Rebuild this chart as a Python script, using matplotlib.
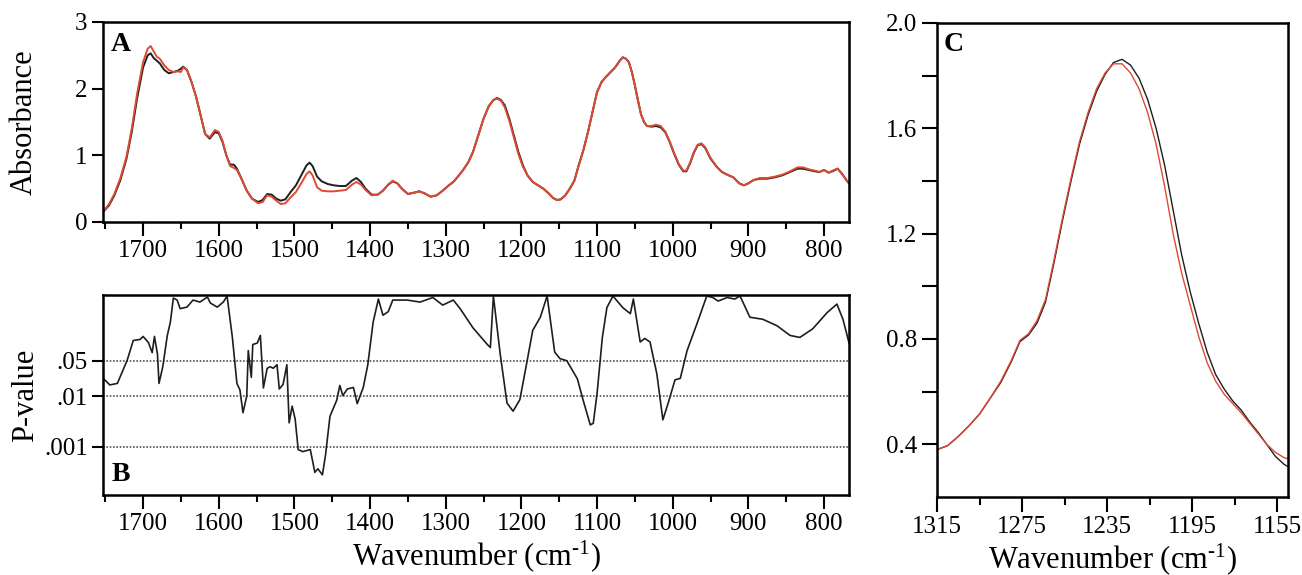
import numpy as np
import matplotlib
matplotlib.use("Agg")
import matplotlib.pyplot as plt
from matplotlib.ticker import MultipleLocator, FixedLocator, NullLocator

plt.rcParams['font.family'] = ['Liberation Serif', 'DejaVu Serif']
plt.rcParams['mathtext.fontset'] = 'custom'
plt.rcParams['mathtext.rm'] = 'Liberation Serif'
plt.rcParams['mathtext.it'] = 'Liberation Serif:italic'

# ---------------- Panel A data (absorbance spectra) ----------------
wn_A = [1753, 1745, 1738, 1730, 1722, 1715, 1708, 1700, 1694, 1690, 1686, 1682, 1678, 1672,
        1666, 1660, 1654, 1650, 1647, 1642, 1636, 1630, 1624, 1618, 1612, 1605, 1600, 1595,
        1590, 1585, 1580, 1576, 1570, 1563, 1556, 1548, 1542, 1536, 1530, 1524, 1518, 1512,
        1505, 1498, 1490, 1484, 1480, 1476, 1470, 1464, 1456, 1448, 1440, 1432, 1424, 1418,
        1412, 1406, 1398, 1390, 1383, 1376, 1370, 1364, 1358, 1350, 1342, 1335, 1328, 1320,
        1312, 1304, 1296, 1290, 1284, 1277, 1270, 1264, 1257, 1250, 1243, 1237, 1232, 1227,
        1222, 1216, 1210, 1204, 1198, 1192, 1185, 1178, 1171, 1164, 1158, 1153, 1148, 1142,
        1136, 1130, 1124, 1118, 1112, 1106, 1100, 1094, 1088, 1082, 1076, 1070, 1066, 1062,
        1058, 1054, 1050, 1047, 1042, 1038, 1034, 1028, 1022, 1016, 1010, 1004, 998, 992,
        986, 982, 977, 972, 967, 962, 957, 950, 942, 935, 928, 920, 912, 906, 900, 893, 885,
        875, 865, 855, 845, 835, 828, 820, 812, 806, 800, 794, 787, 782, 776, 770, 767]
abs_black = [0.15, 0.25, 0.40, 0.63, 0.95, 1.35, 1.85, 2.32, 2.50, 2.53, 2.46, 2.42, 2.38, 2.28,
             2.23, 2.25, 2.27, 2.30, 2.33, 2.28, 2.10, 1.88, 1.60, 1.32, 1.25, 1.35, 1.33, 1.20,
             1.00, 0.86, 0.86, 0.80, 0.65, 0.47, 0.35, 0.30, 0.33, 0.42, 0.41, 0.35, 0.32, 0.34,
             0.45, 0.55, 0.72, 0.85, 0.89, 0.84, 0.68, 0.61, 0.57, 0.55, 0.54, 0.54, 0.62, 0.66,
             0.60, 0.50, 0.41, 0.41, 0.47, 0.56, 0.61, 0.58, 0.50, 0.42, 0.44, 0.46, 0.43, 0.38,
             0.40, 0.47, 0.55, 0.60, 0.68, 0.78, 0.90, 1.05, 1.30, 1.55, 1.74, 1.83, 1.86, 1.83,
             1.75, 1.55, 1.30, 1.05, 0.85, 0.70, 0.60, 0.55, 0.50, 0.43, 0.36, 0.33, 0.34, 0.40,
             0.50, 0.62, 0.86, 1.08, 1.35, 1.65, 1.95, 2.10, 2.18, 2.25, 2.32, 2.42, 2.47, 2.45,
             2.40, 2.25, 2.05, 1.88, 1.62, 1.50, 1.44, 1.43, 1.44, 1.42, 1.35, 1.20, 1.02, 0.86,
             0.76, 0.76, 0.88, 1.04, 1.15, 1.17, 1.11, 0.95, 0.83, 0.75, 0.71, 0.67, 0.58, 0.55,
             0.58, 0.63, 0.65, 0.65, 0.67, 0.70, 0.75, 0.80, 0.80, 0.78, 0.76, 0.75, 0.78, 0.74,
             0.77, 0.80, 0.72, 0.62, 0.58]
abs_red = [0.15, 0.27, 0.42, 0.66, 0.98, 1.40, 1.92, 2.40, 2.60, 2.64, 2.56, 2.48, 2.45, 2.35,
           2.28, 2.25, 2.26, 2.25, 2.32, 2.28, 2.10, 1.88, 1.60, 1.32, 1.27, 1.38, 1.35, 1.22,
           1.00, 0.84, 0.81, 0.78, 0.65, 0.47, 0.35, 0.28, 0.30, 0.40, 0.38, 0.32, 0.27, 0.28,
           0.37, 0.45, 0.60, 0.72, 0.76, 0.70, 0.52, 0.47, 0.46, 0.46, 0.47, 0.48, 0.56, 0.60,
           0.56, 0.48, 0.40, 0.41, 0.47, 0.56, 0.62, 0.58, 0.50, 0.42, 0.44, 0.46, 0.43, 0.38,
           0.40, 0.47, 0.55, 0.60, 0.68, 0.78, 0.90, 1.05, 1.30, 1.55, 1.74, 1.83, 1.85, 1.82,
           1.72, 1.52, 1.27, 1.02, 0.83, 0.70, 0.60, 0.55, 0.50, 0.43, 0.36, 0.33, 0.34, 0.40,
           0.50, 0.62, 0.86, 1.08, 1.35, 1.65, 1.95, 2.10, 2.18, 2.25, 2.32, 2.42, 2.47, 2.45,
           2.40, 2.25, 2.05, 1.88, 1.62, 1.50, 1.44, 1.44, 1.46, 1.44, 1.36, 1.21, 1.03, 0.87,
           0.77, 0.77, 0.89, 1.05, 1.16, 1.18, 1.12, 0.96, 0.83, 0.75, 0.71, 0.67, 0.58, 0.55,
           0.58, 0.63, 0.66, 0.66, 0.68, 0.71, 0.76, 0.82, 0.82, 0.79, 0.77, 0.75, 0.78, 0.74,
           0.78, 0.80, 0.72, 0.62, 0.58]

# ---------------- Panel B data (log10 of P-value) ----------------
wn_B = [1754, 1744, 1734, 1721, 1713, 1704, 1700, 1693, 1688, 1685, 1681, 1679, 1674, 1668,
        1664, 1660, 1655, 1651, 1642, 1634, 1625, 1615, 1611, 1602, 1594, 1589, 1582, 1576,
        1572, 1568, 1563, 1561, 1557, 1555, 1549, 1545, 1541, 1536, 1532, 1528, 1523, 1520,
        1515, 1510, 1507, 1503, 1499, 1495, 1489, 1479, 1473, 1469, 1463, 1459, 1453, 1444,
        1440, 1436, 1430, 1422, 1417, 1409, 1403, 1396, 1389, 1383, 1376, 1370, 1351, 1334,
        1317, 1304, 1290, 1281, 1264, 1245, 1241, 1237, 1228, 1219, 1211, 1202, 1193, 1185,
        1175, 1166, 1156, 1149, 1140, 1126, 1119, 1109, 1105, 1100, 1093, 1087, 1079, 1066,
        1056, 1052, 1043, 1037, 1030, 1021, 1013, 1006, 997, 990, 981, 968, 955, 947, 940,
        928, 918, 911, 898, 881, 862, 845, 832, 815, 796, 783, 775, 770, 767]
log_p = [-1.63, -1.78, -1.75, -1.29, -0.90, -0.88, -0.82, -0.94, -1.14, -0.82, -1.17, -1.75,
         -1.42, -0.80, -0.54, -0.06, -0.10, -0.27, -0.24, -0.10, -0.14, -0.04, -0.16, -0.24,
         -0.14, -0.02, -0.84, -1.75, -1.88, -2.33, -2.00, -1.10, -1.63, -0.98, -0.95, -0.80,
         -1.84, -1.45, -1.42, -1.45, -1.38, -1.86, -1.77, -1.38, -2.53, -2.20, -2.46, -3.06,
         -3.10, -3.06, -3.51, -3.44, -3.56, -3.18, -2.40, -2.08, -1.79, -1.99, -1.86, -1.83,
         -2.15, -1.83, -1.38, -0.54, -0.08, -0.40, -0.33, -0.10, -0.10, -0.14, -0.05, -0.20,
         -0.10, -0.27, -0.65, -0.98, -1.04, -0.02, -1.17, -2.14, -2.30, -2.07, -1.35, -0.70,
         -0.44, -0.02, -1.13, -1.26, -1.30, -1.66, -2.05, -2.57, -2.54, -1.95, -0.84, -0.25,
         -0.02, -0.25, -0.37, -0.08, -0.93, -0.86, -0.93, -1.56, -2.47, -2.14, -1.68, -1.65,
         -1.10, -0.57, -0.02, -0.05, -0.12, -0.05, -0.08, -0.02, -0.44, -0.48, -0.61, -0.80,
         -0.84, -0.67, -0.35, -0.18, -0.48, -0.77, -0.95]
p_levels = [0.05, 0.01, 0.001]
p_labels = ['.05', '.01', '.001']

# ---------------- Panel C data (amide III band) ----------------
wn_C = [1315, 1310, 1305, 1300, 1295, 1290, 1285, 1280, 1276, 1272, 1268, 1264, 1260, 1256,
        1252, 1248, 1244, 1240, 1236, 1232, 1228, 1224, 1220, 1216, 1212, 1208, 1204, 1200,
        1196, 1192, 1188, 1184, 1180, 1176, 1172, 1168, 1164, 1160, 1156, 1152, 1150]
c_black = [0.38, 0.395, 0.43, 0.47, 0.515, 0.575, 0.635, 0.715, 0.79, 0.815, 0.86, 0.94, 1.09,
           1.25, 1.40, 1.54, 1.65, 1.74, 1.805, 1.85, 1.862, 1.84, 1.79, 1.71, 1.60, 1.46,
           1.29, 1.12, 0.98, 0.86, 0.75, 0.665, 0.61, 0.565, 0.53, 0.485, 0.445, 0.40, 0.355,
           0.325, 0.315]
c_red = [0.38, 0.395, 0.43, 0.47, 0.515, 0.575, 0.64, 0.72, 0.795, 0.82, 0.87, 0.95, 1.10,
         1.26, 1.41, 1.55, 1.66, 1.75, 1.81, 1.845, 1.845, 1.81, 1.75, 1.66, 1.54, 1.38, 1.20,
         1.05, 0.93, 0.81, 0.71, 0.64, 0.59, 0.555, 0.52, 0.48, 0.44, 0.40, 0.37, 0.35, 0.345]

BLACK = '#1e1e1e'
RED = '#de4a33'
TICK_FS = 18
LABEL_FS = 22
LETTER_FS = 20
XLABEL = 'Wavenumber (cm$^{\\mathregular{\\text{-}1}}$)'

fig = plt.figure(figsize=(13.02, 5.75), dpi=100)
axA = fig.add_axes([103/1302, 1 - 222/575, 746/1302, 200/575])
axB = fig.add_axes([103/1302, 1 - 495/575, 746/1302, 200/575])
axC = fig.add_axes([937/1302, 1 - 497/575, 351/1302, 474/575])


def style(ax):
    for s in ax.spines.values():
        s.set_linewidth(1.8)
        s.set_color('black')
    ax.tick_params(which='major', direction='out', length=8, width=1.5,
                   labelsize=TICK_FS, pad=3, colors='black')
    ax.tick_params(which='minor', direction='out', length=5, width=1.5)


# Panel A
axA.plot(wn_A, abs_black, color=BLACK, lw=1.4)
axA.plot(wn_A, abs_red, color=RED, lw=1.4)
axA.set_xlim(1753, 767)
axA.set_ylim(0, 3)
axA.xaxis.set_major_locator(MultipleLocator(100))
axA.xaxis.set_minor_locator(MultipleLocator(50))
axA.yaxis.set_major_locator(MultipleLocator(1))
style(axA)
axA.tick_params(axis='x', which='major', length=10)
axA.set_ylabel('Absorbance', fontsize=LABEL_FS, labelpad=26)
axA.text(0.011, 0.95, 'A', transform=axA.transAxes, fontsize=LETTER_FS, fontweight='bold',
         va='top', ha='left')

# Panel B
axB.plot(wn_B, [10 ** v for v in log_p], color=BLACK, lw=1.2)
axB.set_yscale('log')
axB.set_xlim(1753, 767)
axB.set_ylim(1.1e-4, 1)
for lv in p_levels:
    axB.axhline(lv, color='#555555', lw=1.2, ls=(0, (1, 1)), zorder=0)
axB.yaxis.set_major_locator(FixedLocator(p_levels))
axB.yaxis.set_minor_locator(NullLocator())
axB.set_yticklabels(p_labels)
axB.xaxis.set_major_locator(MultipleLocator(100))
axB.xaxis.set_minor_locator(MultipleLocator(50))
style(axB)
axB.tick_params(axis='x', which='major', length=10)
axB.set_ylabel('P-value', fontsize=LABEL_FS, labelpad=3)
axB.set_xlabel(XLABEL, fontsize=LABEL_FS, labelpad=2)
axB.text(0.011, 0.04, 'B', transform=axB.transAxes, fontsize=LETTER_FS, fontweight='bold',
         va='bottom', ha='left')

# Panel C
axC.plot(wn_C, c_black, color=BLACK, lw=1.0)
axC.plot(wn_C, c_red, color=RED, lw=1.0)
axC.set_xlim(1315, 1150)
axC.set_ylim(0.2, 2.0)
axC.xaxis.set_major_locator(FixedLocator([1315, 1275, 1235, 1195, 1155]))
axC.xaxis.set_minor_locator(FixedLocator([1295, 1255, 1215, 1175]))
axC.yaxis.set_major_locator(FixedLocator([0.4, 0.8, 1.2, 1.6, 2.0]))
axC.yaxis.set_minor_locator(FixedLocator([0.6, 1.0, 1.4, 1.8]))
axC.yaxis.set_major_formatter(plt.FuncFormatter(lambda v, p: f'{v:.1f}'))
style(axC)
axC.tick_params(axis='y', which='both', length=11)
axC.tick_params(axis='x', which='major', length=11)
axC.tick_params(axis='x', which='minor', length=6)
axC.set_xlabel(XLABEL, fontsize=LABEL_FS, labelpad=2)
axC.text(0.02, 0.98, 'C', transform=axC.transAxes, fontsize=LETTER_FS, fontweight='bold',
         va='top', ha='left')

fig.savefig('out.png', dpi=100, facecolor='white')
